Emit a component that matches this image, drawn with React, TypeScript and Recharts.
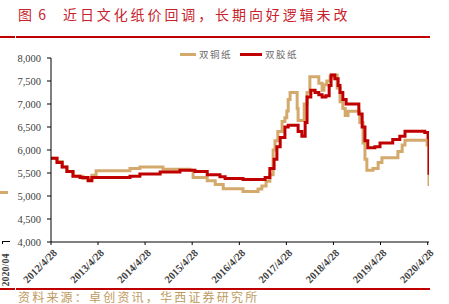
import React from 'react';
import { LineChart, Line, XAxis, YAxis, Legend } from 'recharts';

// decimal-year time points and prices (元/吨)
const coatedTime = [2012.32, 2012.45, 2012.56, 2012.66, 2012.79, 2013.0, 2013.11, 2013.19, 2013.28, 2013.79, 2014.0, 2014.21, 2014.57, 2014.7, 2015.27, 2015.34, 2015.64, 2015.81, 2015.98, 2016.4, 2016.65, 2016.72, 2016.8, 2016.89, 2016.97, 2017.04, 2017.08, 2017.14, 2017.23, 2017.29, 2017.33, 2017.36, 2017.4, 2017.5, 2017.55, 2017.57, 2017.65, 2017.7, 2017.76, 2017.82, 2017.97, 2018.01, 2018.08, 2018.12, 2018.18, 2018.25, 2018.29, 2018.37, 2018.4, 2018.46, 2018.52, 2018.57, 2018.63, 2018.82, 2018.88, 2018.95, 2018.99, 2019.03, 2019.16, 2019.27, 2019.35, 2019.58, 2019.69, 2019.78, 2019.84, 2020.22, 2020.31, 2020.35];
const coatedValues = [5820, 5750, 5630, 5530, 5430, 5380, 5360, 5450, 5550, 5550, 5600, 5630, 5630, 5580, 5560, 5400, 5330, 5250, 5160, 5100, 5100, 5150, 5220, 5320, 5460, 6000, 6200, 6400, 6620, 6700, 6850, 7100, 7250, 7250, 6900, 6640, 6640, 7000, 7250, 7590, 7590, 7450, 7300, 7420, 7500, 7590, 7630, 7630, 7350, 7050, 6900, 6750, 6840, 6840, 6600, 6150, 5800, 5560, 5600, 5730, 5830, 5830, 5970, 6110, 6210, 6210, 6110, 5220];

const offsetTime = [2012.32, 2012.45, 2012.56, 2012.66, 2012.79, 2012.94, 2013.11, 2013.19, 2013.79, 2014.0, 2014.21, 2014.64, 2015.06, 2015.38, 2015.64, 2015.91, 2016.02, 2016.4, 2016.87, 2016.97, 2017.06, 2017.12, 2017.19, 2017.29, 2017.36, 2017.5, 2017.57, 2017.65, 2017.72, 2017.76, 2017.84, 2017.93, 2018.01, 2018.08, 2018.16, 2018.23, 2018.27, 2018.35, 2018.42, 2018.46, 2018.52, 2018.59, 2018.82, 2018.86, 2018.93, 2018.99, 2019.05, 2019.2, 2019.31, 2019.58, 2019.73, 2019.84, 2020.16, 2020.26, 2020.33, 2020.35];
const offsetValues = [5820, 5730, 5630, 5530, 5430, 5400, 5330, 5400, 5400, 5430, 5480, 5520, 5560, 5530, 5460, 5420, 5380, 5360, 5400, 5600, 5800, 6070, 6270, 6500, 6540, 6540, 6400, 6300, 6600, 7150, 7300, 7250, 7200, 7150, 7180, 7400, 7630, 7550, 7400, 7250, 7100, 7000, 7000, 6780, 6500, 6200, 6050, 6070, 6150, 6230, 6300, 6410, 6410, 6380, 6270, 5460];

const xTickLabels = ['2012/4/28', '2013/4/28', '2014/4/28', '2015/4/28', '2016/4/28', '2017/4/28', '2018/4/28', '2019/4/28', '2020/4/28'];
const yTicks = [4000, 4500, 5000, 5500, 6000, 6500, 7000, 7500, 8000];
const seriesNames = ['双铜纸', '双胶纸'];

const TAN = '#D4A96C';
const RED = '#C00000';
const SERIF = "'Liberation Serif', 'DejaVu Serif', serif";

function toDecimalYear(label: string): number {
  const [y, m, d] = label.split('/').map(Number);
  const start = Date.UTC(y, 0, 1);
  const end = Date.UTC(y + 1, 0, 1);
  const cur = Date.UTC(y, m - 1, d);
  return y + (cur - start) / (end - start);
}

const xTicks = xTickLabels.map(toDecimalYear);

const coatedData = coatedTime.map((t, i) => ({ t, v: coatedValues[i] }));
const offsetData = offsetTime.map((t, i) => ({ t, v: offsetValues[i] }));

const XTick = (props: any) => {
  const { x, payload } = props;
  const idx = xTicks.findIndex((t) => Math.abs(t - payload.value) < 1e-6);
  const label = idx >= 0 ? xTickLabels[idx] : '';
  return (
    <text
      transform={`translate(${x + 4},${251}) rotate(-45)`}
      textAnchor="end"
      style={{ fontFamily: SERIF, fontWeight: 'bold', fontSize: 10.5 }}
      fill="#404040"
      dy="0.35em"
    >
      {label}
    </text>
  );
};

const YTick = (props: any) => {
  const { x, y, payload } = props;
  return (
    <text x={x} y={y} dy="0.35em" textAnchor="end" style={{ fontFamily: SERIF, fontSize: 10.5 }} fill="#404040">
      {Number(payload.value).toLocaleString('en-US')}
    </text>
  );
};

const LegendContent = () => (
  <div style={{ display: 'flex', alignItems: 'center', fontFamily: "'Noto Sans CJK SC', sans-serif", fontSize: 9.5, color: '#6a6a6a' }}>
    <div style={{ width: 16, height: 3, background: TAN, marginRight: 3 }} />
    <span style={{ letterSpacing: 1.5 }}>{seriesNames[0]}</span>
    <div style={{ width: 22, height: 3, background: RED, marginLeft: 8, marginRight: 3 }} />
    <span style={{ letterSpacing: 1.5 }}>{seriesNames[1]}</span>
  </div>
);

export default function App() {
  return (
    <div style={{ position: 'absolute', left: 0, top: 0, width: 449, height: 304, background: '#fff', overflow: 'hidden' }}>
      <div style={{ position: 'absolute', left: 18, top: 5, fontFamily: "'Noto Sans CJK SC', sans-serif", fontSize: 14, color: '#C8232C', whiteSpace: 'nowrap', lineHeight: '18px', wordSpacing: 3 }}>
        图 6
      </div>
      <div style={{ position: 'absolute', left: 63, top: 5, fontFamily: "'Noto Sans CJK SC', sans-serif", fontSize: 14, letterSpacing: 2.9, color: '#C8232C', whiteSpace: 'nowrap', lineHeight: '18px' }}>
        近日文化纸价回调，长期向好逻辑未改
      </div>
      <div style={{ position: 'absolute', left: 0, top: 36, width: 15, height: 2, background: '#C00000' }} />
      <div style={{ position: 'absolute', left: 16, top: 36, width: 414, height: 2, background: '#C00000' }} />
      <div style={{ position: 'absolute', left: 0, top: 288, width: 15, height: 2, background: '#C00000' }} />
      <div style={{ position: 'absolute', left: 16, top: 288, width: 414, height: 2, background: '#C00000' }} />
      <div style={{ position: 'absolute', left: 18, top: 290, fontFamily: "'Noto Sans CJK SC', sans-serif", fontSize: 12, letterSpacing: 2.2, color: '#BE9A5E', whiteSpace: 'nowrap', lineHeight: '13px' }}>
        资料来源：卓创资讯，华西证券研究所
      </div>
      {/* remnant of neighbouring chart at left edge */}
      <div style={{ position: 'absolute', left: 0, top: 191, width: 8, height: 3, background: TAN }} />
      <div style={{ position: 'absolute', left: 2, top: 241, width: 8, height: 1, background: '#000' }} />
      <div style={{ position: 'absolute', left: 2, top: 241, width: 1, height: 3, background: '#000' }} />
      <div style={{ position: 'absolute', left: -12, top: 264, width: 36, height: 12, transform: 'rotate(-90deg)', fontFamily: SERIF, fontWeight: 'bold', fontSize: 10, color: '#404040', textAlign: 'center', lineHeight: '12px' }}>
        2020/04
      </div>
      <div style={{ position: 'absolute', left: 0, top: 0 }}>
        <LineChart width={449} height={304} data={coatedData} margin={{ top: 44, right: 20, bottom: 12, left: 0 }}>
          <XAxis
            dataKey="t"
            type="number"
            domain={[toDecimalYear('2012/4/28'), 2020.35]}
            ticks={xTicks}
            interval={0}
            tick={<XTick />}
            tickSize={3}
            tickLine={{ stroke: '#000' }}
            axisLine={{ stroke: '#000', strokeWidth: 1 }}
            height={50}
            allowDataOverflow
          />
          <YAxis
            type="number"
            domain={[4000, 8000]}
            ticks={yTicks}
            interval={0}
            width={51}
            tickSize={4}
            tickMargin={6}
            tickLine={{ stroke: '#000' }}
            axisLine={{ stroke: '#000', strokeWidth: 1 }}
            tick={<YTick />}
          />
          <Legend
            verticalAlign="top"
            content={<LegendContent />}
            wrapperStyle={{ position: 'absolute', left: 180, top: 47, width: 160 }}
          />
          <Line data={coatedData} dataKey="v" name={seriesNames[0]} type="stepAfter" stroke={TAN} strokeWidth={3} dot={false} isAnimationActive={false} />
          <Line data={offsetData} dataKey="v" name={seriesNames[1]} type="stepAfter" stroke={RED} strokeWidth={3} dot={false} isAnimationActive={false} />
        </LineChart>
      </div>
    </div>
  );
}
